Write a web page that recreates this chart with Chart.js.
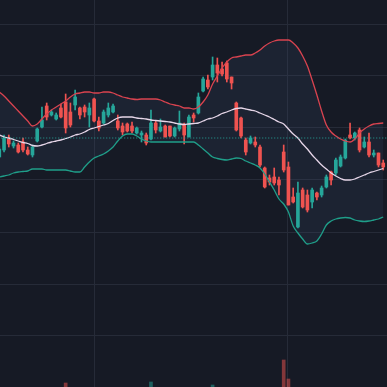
<!DOCTYPE html>
<html><head><meta charset="utf-8">
<script src="https://cdn.jsdelivr.net/npm/chart.js@4/dist/chart.umd.min.js"></script>
<style>html,body{margin:0;padding:0;background:#161a25;overflow:hidden}canvas{display:block;background:#161a25}</style>
</head><body>
<canvas id="c" width="387" height="387"></canvas>
<script>
const open = [102.3,103.0,104.2,103.4,103.5,103.8,103.0,102.5,103.9,105.3,
107.4,106.5,106.1,107.2,107.8,106.8,107.5,107.2,107.3,106.5,
108.1,105.9,105.7,106.5,106.8,105.9,105.4,105.6,105.4,104.7,
104.5,104.5,104.1,105.7,104.9,105.4,105.4,104.4,105.1,105.5,
104.3,106.5,106.7,108.9,110.0,110.3,111.5,111.1,111.7,110.3,
107.7,106.2,104.0,103.7,103.8,103.3,101.2,100.2,100.3,100.0,
102.8,101.3,98.3,95.3,99.0,98.5,97.8,98.7,98.5,99.3,
100.8,100.7,101.4,102.2,104.5,104.2,105.0,103.3,103.8,102.5,
102.7,101.7];
const high = [103.4,104.5,104.5,103.9,103.7,104.2,103.3,103.5,105.2,107.3,
107.7,107.0,106.7,107.6,108.6,107.7,109.0,107.3,107.5,107.7,
108.2,106.3,107.0,107.7,107.6,106.5,105.7,105.7,105.8,105.3,
104.9,104.7,107.0,105.9,106.1,105.5,105.4,105.3,106.9,105.7,
106.5,106.7,108.7,110.3,110.5,112.3,112.2,111.8,111.9,110.3,
107.8,106.3,104.2,104.4,104.3,103.5,101.3,100.5,101.2,100.3,
103.5,101.8,99.2,99.8,99.2,99.0,99.2,98.8,99.4,100.5,
100.9,102.2,102.5,104.1,105.7,104.8,105.2,104.3,104.7,103.0,
102.7,102.0];
const low = [102.2,102.8,103.3,103.2,102.7,102.8,102.5,102.3,103.8,105.2,
106.0,106.4,106.0,106.2,104.7,105.3,107.0,106.1,106.3,105.3,
105.8,104.9,105.6,106.3,106.7,105.0,104.5,104.8,104.7,104.6,
103.8,103.5,104.0,104.7,104.8,104.3,104.3,104.3,104.9,103.6,
104.3,105.8,106.6,108.8,109.1,110.0,109.8,110.4,109.8,109.1,
104.9,104.2,102.5,103.6,103.3,101.3,99.2,99.5,99.5,98.5,
100.8,97.5,97.7,95.2,97.2,96.8,97.2,98.0,98.3,99.2,
99.5,100.5,101.3,102.1,104.1,104.0,102.8,103.2,102.3,102.3,
101.3,101.0];
const close = [103.1,104.2,103.6,103.7,102.8,103.0,102.6,103.3,105.1,106.0,
106.3,106.8,106.5,106.3,105.2,105.5,108.3,106.5,106.8,107.2,
105.9,105.2,106.8,107.2,107.4,105.2,104.8,104.9,104.9,105.2,
104.7,103.7,105.7,105.0,105.3,104.3,104.4,105.2,105.7,104.5,
106.3,106.2,108.3,110.1,109.3,111.5,110.7,110.6,110.1,109.7,
105.0,104.4,102.8,104.2,103.5,101.5,99.3,99.8,99.7,99.5,
101.0,97.5,97.8,98.7,97.3,97.0,99.0,98.3,99.2,100.3,
100.0,102.0,102.3,104.0,104.2,104.7,103.0,103.8,102.5,102.7,
101.5,101.3];
const volume = [1200,1350,1100,900,1050,1150,980,1250,1400,1500,
1450,900,850,1200,1850,1300,1550,1100,950,1250,
1500,1300,1150,1050,1000,1250,1100,950,1000,900,
1050,1200,1900,1150,1000,1250,1100,950,1300,1350,
1500,1000,1550,1600,1300,1750,1450,1200,1400,1150,
1600,1450,1350,1000,950,1300,1500,1100,1050,1350,
3000,2050,1200,1600,1300,1250,1150,900,1000,1200,
1100,1300,1150,1450,1350,1000,1400,1100,1250,950,
1300,1100];
const bbUpper = [108.8,108.4,107.9,107.4,106.9,106.4,105.9,105.4,105.6,106.1,
106.6,107.0,107.3,107.6,107.9,108.3,108.6,108.7,108.8,108.8,
108.7,108.7,108.8,108.8,108.7,108.5,108.3,108.2,108.1,108.05,
108.1,108.1,108.1,108.1,108.0,107.8,107.6,107.5,107.4,107.2,
107.2,107.1,107.3,107.8,108.5,109.6,110.4,111.2,111.8,112.2,
112.3,112.4,112.5,112.5,112.7,113.0,113.4,113.7,113.9,114.0,
114.0,114.0,113.7,113.2,112.4,111.4,110.0,108.5,106.9,105.5,
104.8,104.4,104.1,103.9,103.8,104.1,104.7,105.1,105.4,105.6,
105.65,105.7];
const bbMiddle = [104.5,104.3,104.2,104.05,103.9,103.75,103.65,103.45,103.4,103.5,
103.65,103.8,103.9,104.0,104.15,104.3,104.5,104.6,104.8,105.05,
105.2,105.35,105.5,105.65,105.95,106.2,106.3,106.3,106.3,106.2,
106.15,106.1,106.0,105.95,105.9,105.85,105.8,105.7,105.6,105.55,
105.6,105.65,105.7,105.9,106.1,106.2,106.4,106.65,106.8,107.0,
107.15,107.2,107.1,107.0,106.9,106.7,106.5,106.3,106.05,105.8,
105.6,105.1,104.6,104.2,103.6,103.1,102.5,102.0,101.5,101.1,
100.7,100.4,100.15,100.0,100.0,100.1,100.3,100.5,100.7,100.85,
101.0,101.15];
const bbLower = [100.3,100.4,100.5,100.7,100.8,100.85,100.9,101.1,101.1,101.1,
101.0,101.0,101.0,101.0,101.0,100.9,100.8,100.8,101.3,101.8,
102.2,102.4,102.6,102.9,103.3,103.9,104.4,104.6,104.6,104.4,
104.1,103.9,103.8,103.8,103.8,103.8,103.8,103.8,103.8,103.8,
103.8,103.8,103.5,103.1,102.7,102.3,102.15,102.05,102.0,102.1,
102.2,102.15,101.9,101.7,101.5,101.2,100.6,99.8,99.0,98.1,
97.6,96.8,95.4,94.7,94.1,93.6,93.7,93.9,94.6,95.5,
95.9,96.1,96.2,96.25,96.2,96.0,95.9,95.85,95.9,96.0,
96.1,96.3];
const lastPrice = 104.2;
const priceGrid = [115.6,110.4,105.2,100.0,94.8,89.6,84.4];
const timeGrid = [20, 60.9];
const candles = open.map((_, i) => i);

const UP = '#26a69a', DOWN = '#ef5350';
const isUp = candles.map(i => close[i] >= open[i]);
const col = candles.map(i => isUp[i] ? UP : DOWN);
const volCol = candles.map(i => isUp[i] ? 'rgba(38,166,154,0.5)' : 'rgba(239,83,80,0.5)');
const XMIN = 0.148, XMAX = 81.794;
const lineBase = { pointRadius:0, cubicInterpolationMode:'monotone', borderWidth:1.3, order:1 };

new Chart(document.getElementById('c'), {
  type: 'bar',
  data: {
    datasets: [
      { ...lineBase, type:'line', label:'upper', data: candles.map(i=>({x:i,y:bbUpper[i]})), borderColor:'#d9434f', fill:'+2', backgroundColor:'rgba(70,95,140,0.13)' },
      { ...lineBase, type:'line', label:'middle', data: candles.map(i=>({x:i,y:bbMiddle[i]})), borderColor:'#e6d6e8', fill:false },
      { ...lineBase, type:'line', label:'lower', data: candles.map(i=>({x:i,y:bbLower[i]})), borderColor:'#1f9e89', fill:false },
      { type:'line', label:'last', data:[{x:XMIN-1,y:lastPrice},{x:XMAX+1,y:lastPrice}], borderColor:'#26a69a', borderWidth:1, borderDash:[1,2], pointRadius:0, fill:false, order:0 },
      { type:'bar', label:'wick', data: candles.map(i=>({x:i,y:[low[i],high[i]]})), backgroundColor: col, barThickness:1, grouped:false, order:3 },
      { type:'bar', label:'body', data: candles.map(i=>({x:i,y:[open[i],close[i]]})), backgroundColor: col, barThickness:3, grouped:false, order:2 },
      { type:'bar', label:'volume', yAxisID:'yv', data: candles.map(i=>({x:i,y:volume[i]})), backgroundColor: volCol, barThickness:3, grouped:false, order:5 }
    ]
  },
  options: {
    responsive:false, animation:false, devicePixelRatio:1,
    layout:{padding:0},
    plugins:{ legend:{display:false}, tooltip:{enabled:false}, filler:{drawTime:'beforeDatasetsDraw'} },
    scales:{
      x:{ type:'linear', min:XMIN, max:XMAX, offset:false,
          grid:{color:'#262b38', drawTicks:false, offset:false}, border:{display:false},
          ticks:{display:false, padding:0},
          afterBuildTicks: s => { s.ticks = timeGrid.map(v=>({value:v})); } },
      y:{ type:'linear', min:79.3, max:118.0, position:'right',
          grid:{color:'#262b38', drawTicks:false}, border:{display:false},
          ticks:{display:false, padding:0},
          afterBuildTicks: s => { s.ticks = priceGrid.map(v=>({value:v})); } },
      yv:{ type:'linear', display:false, min:1650, max:21000 }
    }
  }
});
</script>
</body></html>
